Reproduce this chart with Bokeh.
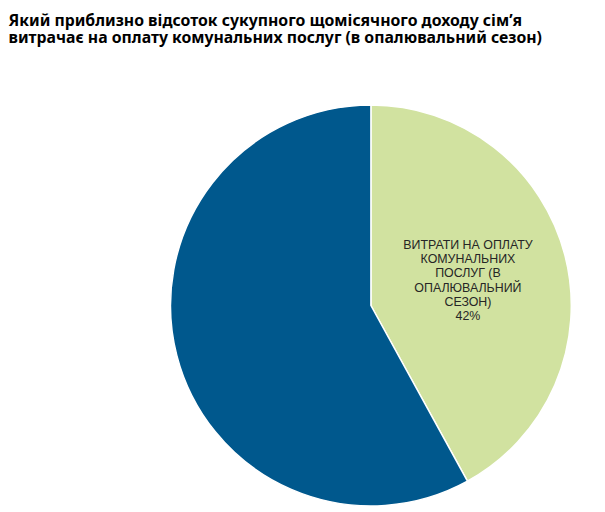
import math
import textwrap
from bokeh.plotting import figure
from bokeh.models import Range1d, ColumnDataSource
from bokeh.core.properties import value
from bokeh.embed import file_html
from bokeh.resources import INLINE

# ---- data ----
title_lines = [
    "Який приблизно відсоток сукупного щомісячного доходу сім’я",
    "витрачає на оплату комунальних послуг (в опалювальний сезон)",
]
categories = ["ВИТРАТИ НА ОПЛАТУ КОМУНАЛЬНИХ ПОСЛУГ (В ОПАЛЮВАЛЬНИЙ СЕЗОН)", "Інші витрати"]
shares = [42, 58]
colors = ["#D1E2A0", "#00588D"]
show_label = [True, False]

# ---- layout ----
W, H = 605, 512
cx, cy, R = 370.4, 207.0, 200.4

p = figure(width=W, height=H, output_backend="svg", toolbar_location=None,
           x_range=Range1d(0, W), y_range=Range1d(0, H), min_border=0,
           match_aspect=False)
p.axis.visible = False
p.grid.visible = False
p.outline_line_color = None
p.background_fill_color = "white"
p.border_fill_color = "white"

total = sum(shares)
starts, ends = [], []
acc = 0.0
for s in shares:
    a0 = math.pi / 2 - 2 * math.pi * acc / total
    acc += s
    a1 = math.pi / 2 - 2 * math.pi * acc / total
    starts.append(a0)
    ends.append(a1)

src = ColumnDataSource(dict(x=[cx] * len(shares), y=[cy] * len(shares),
                            start=starts, end=ends, color=colors))
p.wedge(x="x", y="y", radius=R, start_angle="start", end_angle="end",
        direction="clock", fill_color="color", line_color="white",
        line_width=1.5, source=src)

# labels
lx, ly, lt = [], [], []
for i, cat in enumerate(categories):
    if not show_label[i]:
        continue
    mid = (starts[i] + ends[i]) / 2
    lx.append(cx + 0.5 * R * math.cos(mid))
    ly.append(cy + 0.5 * R * math.sin(mid))
    lt.append("\n".join(textwrap.wrap(cat, 17)) + "\n" + f"{shares[i]}%")

p.text(x=lx, y=ly, text=lt, text_align="center", text_baseline="middle",
       text_font=value("Liberation Sans"), text_font_size="12.4px",
       text_color="#262626", text_line_height=1.02)

# title
for k, line in enumerate(title_lines):
    p.text(x=[8], y=[H - 8 - 17.5 * k], text=[line], text_align="left",
           text_baseline="top", text_font=value("Noto Sans"),
           text_font_style="bold", text_font_size="15.8px", text_color="#000000")

open("out.html", "w").write(file_html(p, INLINE))
